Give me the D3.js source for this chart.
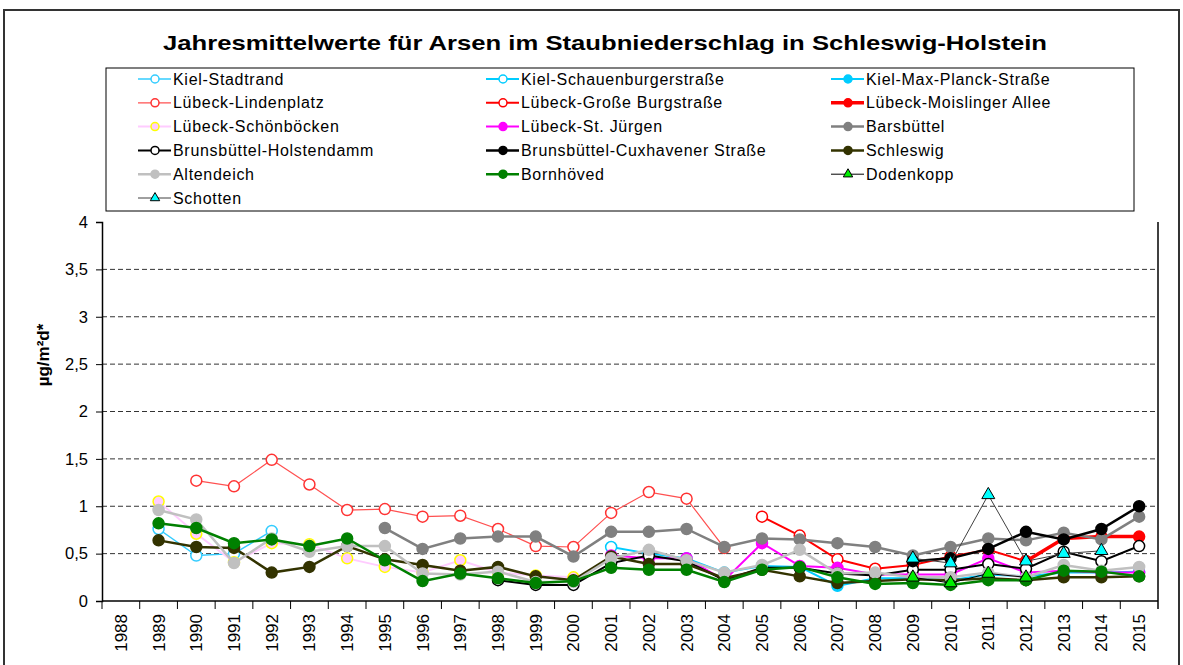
<!DOCTYPE html>
<html>
<head>
<meta charset="utf-8">
<title>Arsen im Staubniederschlag</title>
<script src="https://d3js.org/d3.v7.min.js"></script>
<style>
  body { margin: 0; background: #fff; }
  text { font-family: "Liberation Sans", Arial, sans-serif; fill: #000; }
</style>
</head>
<body>
<script>

// categories on the x axis
var years = ["1988","1989","1990","1991","1992","1993","1994","1995","1996","1997",
             "1998","1999","2000","2001","2002","2003","2004","2005","2006","2007",
             "2008","2009","2010","2011","2012","2013","2014","2015"];

var yTicks = [0, 0.5, 1, 1.5, 2, 2.5, 3, 3.5, 4];

// series values, each list starts at the year in the matching *Start variable
var kielStadtrandStart = 1989;
var kielStadtrand = [0.76, 0.48, 0.50, 0.74];

var kielSchauenburgerStart = 2001;
var kielSchauenburger = [0.57, 0.50, 0.45, 0.30, 0.37, 0.36];

var kielMaxPlanckStart = 2006;
var kielMaxPlanck = [0.36, 0.16, 0.24, 0.24, 0.22, 0.28, 0.26, 0.30, 0.30, 0.31];

var luebeckLindenStart = 1990;
var luebeckLinden = [1.27, 1.21, 1.49, 1.23, 0.96, 0.97, 0.89, 0.90, 0.76, 0.58, 0.57, 0.93, 1.15, 1.08, 0.56];

var luebeckBurgStart = 2005;
var luebeckBurg = [0.89, 0.69, 0.44, 0.34, 0.38, 0.47, 0.54, 0.42];

var luebeckMoislingerStart = 2012;
var luebeckMoislinger = [0.42, 0.66, 0.68, 0.68];

var luebeckSchoenStart = 1989;
var luebeckSchoen = [1.05, 0.71, 0.41, 0.61, 0.60, 0.45, 0.36, 0.30, 0.43, 0.30, 0.27, 0.25];

var luebeckJuergenStart = 2001;
var luebeckJuergen = [0.48, 0.45, 0.45, 0.22, 0.61, 0.37, 0.35, 0.28, 0.28, 0.28, 0.45, 0.30, 0.32, 0.30, 0.30];

var barsbuettelStart = 1995;
var barsbuettel = [0.77, 0.55, 0.66, 0.68, 0.68, 0.47, 0.73, 0.73, 0.76, 0.57, 0.66, 0.65,
                   0.61, 0.57, 0.48, 0.57, 0.66, 0.64, 0.72, 0.65, 0.89];

var holstendammStart = 1998;
var holstendamm = [0.22, 0.17, 0.17, 0.40, 0.48, 0.42, 0.22, 0.35, 0.35, 0.29, 0.27,
                   0.33, 0.33, 0.39, 0.34, 0.52, 0.42, 0.58];

var cuxhavenerStart = 2009;
var cuxhavener = [0.42, 0.45, 0.55, 0.73, 0.65, 0.76, 1.00];

var schleswigStart = 1989;
var schleswig = [0.64, 0.57, 0.56, 0.30, 0.36, 0.58, 0.44, 0.38, 0.32, 0.36, 0.26, 0.22,
                 0.47, 0.39, 0.39, 0.24, 0.33, 0.26, 0.19, 0.21, 0.23, 0.22, 0.24, 0.22,
                 0.25, 0.25, 0.26];

var altendeichStart = 1989;
var altendeich = [0.96, 0.86, 0.40, 0.66, 0.52, 0.58, 0.58, 0.29, 0.28, 0.31, 0.20, 0.20,
                  0.45, 0.54, 0.43, 0.30, 0.38, 0.54, 0.29, 0.30, 0.25, 0.25, 0.30, 0.25,
                  0.38, 0.32, 0.36];

var bornhoevedStart = 1989;
var bornhoeved = [0.82, 0.77, 0.61, 0.65, 0.58, 0.66, 0.43, 0.21, 0.29, 0.24, 0.19, 0.21,
                  0.35, 0.33, 0.33, 0.20, 0.33, 0.36, 0.25, 0.18, 0.19, 0.17, 0.22, 0.22,
                  0.32, 0.31, 0.26];

var dodenkoppStart = 2009;
var dodenkopp = [0.25, 0.19, 0.29, 0.25];

var schottenStart = 2009;
var schotten = [0.45, 0.40, 1.12, 0.42, 0.50, 0.53];

// names, starts and values in legend order
var names = ["Kiel-Stadtrand", "Kiel-Schauenburgerstraße", "Kiel-Max-Planck-Straße",
             "Lübeck-Lindenplatz", "Lübeck-Große Burgstraße", "Lübeck-Moislinger Allee",
             "Lübeck-Schönböcken", "Lübeck-St. Jürgen", "Barsbüttel",
             "Brunsbüttel-Holstendamm", "Brunsbüttel-Cuxhavener Straße", "Schleswig",
             "Altendeich", "Bornhöved", "Dodenkopp", "Schotten"];
var starts = [kielStadtrandStart, kielSchauenburgerStart, kielMaxPlanckStart,
              luebeckLindenStart, luebeckBurgStart, luebeckMoislingerStart,
              luebeckSchoenStart, luebeckJuergenStart, barsbuettelStart,
              holstendammStart, cuxhavenerStart, schleswigStart,
              altendeichStart, bornhoevedStart, dodenkoppStart, schottenStart];
var values = [kielStadtrand, kielSchauenburger, kielMaxPlanck,
              luebeckLinden, luebeckBurg, luebeckMoislinger,
              luebeckSchoen, luebeckJuergen, barsbuettel,
              holstendamm, cuxhavener, schleswig,
              altendeich, bornhoeved, dodenkopp, schotten];

// look of each series: line colour, line width, marker shape, marker fill, marker stroke
var styles = [
  ["#33ccff", 1.5, "circle", "#fff", "#33ccff"],
  ["#00ccff", 2, "circle", "#fff", "#00ccff"],
  ["#00ccff", 2, "circle", "#00ccff", "#00ccff"],
  ["#ff5050", 1.2, "circle", "#fff", "#ff3333"],
  ["#ff0000", 2, "circle", "#fff", "#ff0000"],
  ["#ff0000", 3.5, "circle", "#ff0000", "#ff0000"],
  ["#ffccff", 2, "circle", "#ffccff", "#ffff00"],
  ["#ff00ff", 2, "circle", "#ff00ff", "#ff00ff"],
  ["#808080", 2.5, "circle", "#808080", "#808080"],
  ["#000000", 2, "circle", "#fff", "#000000"],
  ["#000000", 2.5, "circle", "#000000", "#000000"],
  ["#333300", 2.5, "circle", "#333300", "#333300"],
  ["#c0c0c0", 2.5, "circle", "#c0c0c0", "#c0c0c0"],
  ["#008000", 2.5, "circle", "#008000", "#008000"],
  ["#000000", 1, "triangle", "#00ee00", "#000000"],
  ["#404040", 1, "triangle", "#00ffff", "#000000"]
];

var series = names.map(function (n, i) {
  var pts = values[i].map(function (v, j) {
    return { year: String(starts[i] + j), value: v };
  });
  return { name: n, points: pts, style: styles[i] };
});

// svg and frame
var svg = d3.select("body").append("svg")
    .attr("width", 1183)
    .attr("height", 665);

svg.append("rect")
    .attr("x", 4).attr("y", 10)
    .attr("width", 1175).attr("height", 680)
    .attr("fill", "none")
    .attr("stroke", "#333")
    .attr("stroke-width", 2);

svg.append("text")
    .attr("x", 605).attr("y", 50)
    .attr("text-anchor", "middle")
    .attr("font-size", "21px")
    .attr("font-weight", "bold")
    .attr("textLength", 884)
    .attr("lengthAdjust", "spacingAndGlyphs")
    .text("Jahresmittelwerte  für Arsen im Staubniederschlag in Schleswig-Holstein");

// scales
var x = d3.scaleBand().domain(years).range([102, 1158]);
var y = d3.scaleLinear().domain([0, 4]).range([601, 222]);

// dashed grid lines
svg.selectAll(".grid")
    .data(yTicks.filter(function (d) { return d > 0 && d < 4; }))
    .enter().append("line")
    .attr("x1", 102).attr("x2", 1158)
    .attr("y1", function (d) { return y(d); })
    .attr("y2", function (d) { return y(d); })
    .attr("stroke", "#333")
    .attr("stroke-width", 1)
    .attr("stroke-dasharray", "5,3");

// y axis
var yAxis = d3.axisLeft(y)
    .tickValues(yTicks)
    .tickSize(6)
    .tickFormat(function (d) { return String(d).replace(".", ","); });

var gy = svg.append("g").attr("transform", "translate(102,0)").call(yAxis);
gy.select(".domain").attr("stroke", "#000").attr("stroke-width", 1.5);
gy.selectAll(".tick line").attr("stroke", "#000");
gy.selectAll("text")
    .attr("font-size", "16.5px")
    .attr("x", -14)
    .style("font-family", "'Liberation Sans', Arial, sans-serif");

svg.append("text")
    .attr("transform", "translate(49,355) rotate(-90)")
    .attr("text-anchor", "middle")
    .attr("font-size", "17px")
    .attr("font-weight", "bold")
    .text("µg/m²d*");

// x axis with ticks between the categories
svg.append("line")
    .attr("x1", 102).attr("x2", 1158)
    .attr("y1", 601).attr("y2", 601)
    .attr("stroke", "#000").attr("stroke-width", 1.5);

svg.append("line")
    .attr("x1", 1158).attr("x2", 1158)
    .attr("y1", 222).attr("y2", 609)
    .attr("stroke", "#000").attr("stroke-width", 1.5);

svg.selectAll(".xtick")
    .data(years)
    .enter().append("line")
    .attr("x1", function (d) { return x(d); })
    .attr("x2", function (d) { return x(d); })
    .attr("y1", 601).attr("y2", 609)
    .attr("stroke", "#000");

svg.selectAll(".xlabel")
    .data(years)
    .enter().append("text")
    .attr("transform", function (d) {
      return "translate(" + (x(d) + x.bandwidth() / 2 + 6) + ",614) rotate(-90)";
    })
    .attr("text-anchor", "end")
    .attr("font-size", "17px")
    .text(function (d) { return d; });

// series lines and markers
var line = d3.line()
    .x(function (d) { return x(d.year) + x.bandwidth() / 2; })
    .y(function (d) { return y(d.value); });

function drawMarker(g, shape, cx, cy, fill, stroke, r) {
  if (shape == "circle") {
    g.append("circle")
      .attr("cx", cx).attr("cy", cy).attr("r", r)
      .attr("fill", fill).attr("stroke", stroke).attr("stroke-width", 1.5);
  } else {
    g.append("path")
      .attr("d", d3.symbol().type(d3.symbolTriangle).size(r * r * 2.4)())
      .attr("transform", "translate(" + cx + "," + cy + ")")
      .attr("fill", fill).attr("stroke", stroke).attr("stroke-width", 1);
  }
}

series.forEach(function (s) {
  var g = svg.append("g");
  g.append("path")
    .datum(s.points)
    .attr("d", line)
    .attr("fill", "none")
    .attr("stroke", s.style[0])
    .attr("stroke-width", s.style[1]);
  s.points.forEach(function (p) {
    drawMarker(g, s.style[2], x(p.year) + x.bandwidth() / 2, y(p.value), s.style[3], s.style[4], 5.5);
  });
});

// legend
svg.append("rect")
    .attr("x", 106).attr("y", 68)
    .attr("width", 1028).attr("height", 143)
    .attr("fill", "#fff")
    .attr("stroke", "#000")
    .attr("stroke-width", 1);

var colX = [173, 521, 866];
series.forEach(function (s, i) {
  var tx = colX[i % 3];
  var ty = 79 + Math.floor(i / 3) * 23.8;
  var g = svg.append("g");
  g.append("line")
    .attr("x1", tx - 35).attr("x2", tx - 2)
    .attr("y1", ty).attr("y2", ty)
    .attr("stroke", s.style[0])
    .attr("stroke-width", s.style[1]);
  drawMarker(g, s.style[2], tx - 18, ty, s.style[3], s.style[4], 4);
  g.append("text")
    .attr("x", tx).attr("y", ty + 5.5)
    .attr("font-size", "16px")
    .attr("letter-spacing", "0.7px")
    .text(s.name);
});

</script>
</body>
</html>
